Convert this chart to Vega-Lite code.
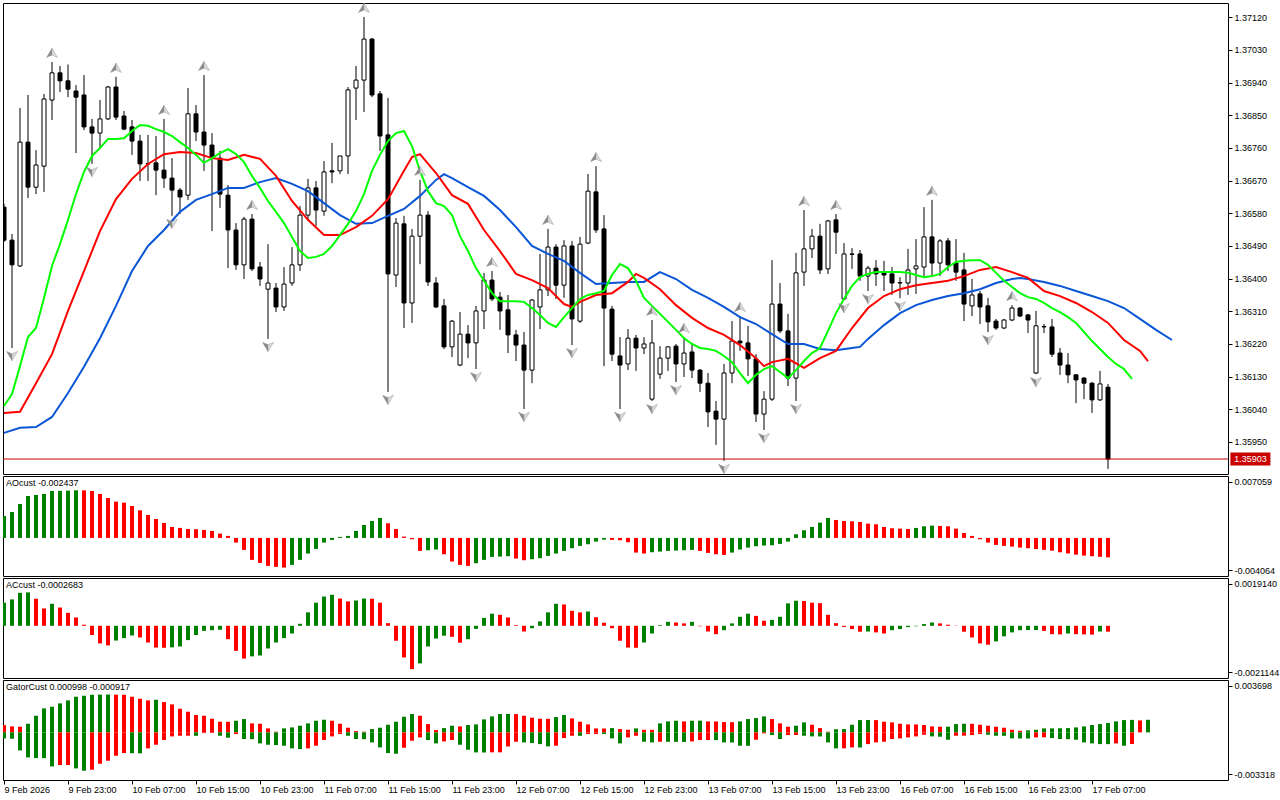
{
"$schema": "https://vega.github.io/schema/vega-lite/v6.json",
"background": "white",
"padding": {"left": 2, "top": 2, "right": 0, "bottom": 0},
"spacing": 2,
"bounds": "flush",
"config": {"view": {"stroke": "black", "strokeWidth": 1}, "font": "Liberation Sans",
  "axis": {"labelFont": "Liberation Sans", "labelFontSize": 9, "labelColor": "black", "tickColor": "black", "domain": false, "grid": false},
  "title": {"font": "Liberation Sans", "fontSize": 9, "fontWeight": "normal", "color": "black"}},
"datasets": {
"candles": [
{"i":0,"o":1.36597,"h":1.36606,"l":1.36501,"c":1.36506},
{"i":1,"o":1.36506,"h":1.36523,"l":1.36209,"c":1.36438,"f":"d"},
{"i":2,"o":1.36435,"h":1.36870,"l":1.36432,"c":1.36776},
{"i":3,"o":1.36776,"h":1.36906,"l":1.36622,"c":1.36652},
{"i":4,"o":1.36652,"h":1.36754,"l":1.36633,"c":1.36713},
{"i":5,"o":1.36710,"h":1.36909,"l":1.36639,"c":1.36895},
{"i":6,"o":1.36892,"h":1.36997,"l":1.36837,"c":1.36967,"f":"u"},
{"i":7,"o":1.36967,"h":1.36986,"l":1.36914,"c":1.36945},
{"i":8,"o":1.36945,"h":1.36990,"l":1.36900,"c":1.36922},
{"i":9,"o":1.36917,"h":1.36933,"l":1.36746,"c":1.36900},
{"i":10,"o":1.36906,"h":1.36961,"l":1.36809,"c":1.36818},
{"i":11,"o":1.36818,"h":1.36840,"l":1.36716,"c":1.36801,"f":"d"},
{"i":12,"o":1.36801,"h":1.36892,"l":1.36760,"c":1.36840},
{"i":13,"o":1.36840,"h":1.36931,"l":1.36837,"c":1.36928},
{"i":14,"o":1.36928,"h":1.36956,"l":1.36837,"c":1.36845,"f":"u"},
{"i":15,"o":1.36848,"h":1.36862,"l":1.36809,"c":1.36812},
{"i":16,"o":1.36818,"h":1.36837,"l":1.36741,"c":1.36779},
{"i":17,"o":1.36779,"h":1.36796,"l":1.36669,"c":1.36716},
{"i":18,"o":1.36716,"h":1.36796,"l":1.36669,"c":1.36717},
{"i":19,"o":1.36719,"h":1.36793,"l":1.36630,"c":1.36699},
{"i":20,"o":1.36699,"h":1.36840,"l":1.36650,"c":1.36677,"f":"u"},
{"i":21,"o":1.36677,"h":1.36732,"l":1.36573,"c":1.36644,"f":"d"},
{"i":22,"o":1.36644,"h":1.36650,"l":1.36578,"c":1.36625},
{"i":23,"o":1.36630,"h":1.36925,"l":1.36617,"c":1.36854},
{"i":24,"o":1.36854,"h":1.36878,"l":1.36779,"c":1.36804},
{"i":25,"o":1.36804,"h":1.36961,"l":1.36697,"c":1.36768,"f":"u"},
{"i":26,"o":1.36768,"h":1.36801,"l":1.36531,"c":1.36732},
{"i":27,"o":1.36732,"h":1.36752,"l":1.36595,"c":1.36633},
{"i":28,"o":1.36630,"h":1.36658,"l":1.36429,"c":1.36534},
{"i":29,"o":1.36534,"h":1.36553,"l":1.36424,"c":1.36438},
{"i":30,"o":1.36438,"h":1.36570,"l":1.36399,"c":1.36564},
{"i":31,"o":1.36564,"h":1.36578,"l":1.36421,"c":1.36427,"f":"u"},
{"i":32,"o":1.36432,"h":1.36446,"l":1.36380,"c":1.36399},
{"i":33,"o":1.36371,"h":1.36495,"l":1.36234,"c":1.36388,"f":"d"},
{"i":34,"o":1.36374,"h":1.36388,"l":1.36308,"c":1.36322},
{"i":35,"o":1.36322,"h":1.36432,"l":1.36311,"c":1.36385},
{"i":36,"o":1.36388,"h":1.36487,"l":1.36380,"c":1.36438},
{"i":37,"o":1.36438,"h":1.36600,"l":1.36421,"c":1.36575},
{"i":38,"o":1.36575,"h":1.36675,"l":1.36559,"c":1.36650},
{"i":39,"o":1.36650,"h":1.36669,"l":1.36545,"c":1.36589},
{"i":40,"o":1.36586,"h":1.36724,"l":1.36573,"c":1.36694},
{"i":41,"o":1.36697,"h":1.36774,"l":1.36663,"c":1.36694},
{"i":42,"o":1.36697,"h":1.36738,"l":1.36688,"c":1.36738},
{"i":43,"o":1.36738,"h":1.36928,"l":1.36688,"c":1.36920},
{"i":44,"o":1.36925,"h":1.36986,"l":1.36837,"c":1.36947},
{"i":45,"o":1.36947,"h":1.37121,"l":1.36859,"c":1.37060,"f":"u"},
{"i":46,"o":1.37060,"h":1.37063,"l":1.36900,"c":1.36906},
{"i":47,"o":1.36909,"h":1.36917,"l":1.36752,"c":1.36793},
{"i":48,"o":1.36796,"h":1.36898,"l":1.36088,"c":1.36413,"f":"d"},
{"i":49,"o":1.36410,"h":1.36567,"l":1.36377,"c":1.36553},
{"i":50,"o":1.36551,"h":1.36573,"l":1.36264,"c":1.36333},
{"i":51,"o":1.36333,"h":1.36537,"l":1.36278,"c":1.36517},
{"i":52,"o":1.36517,"h":1.36672,"l":1.36440,"c":1.36575,"f":"u"},
{"i":53,"o":1.36575,"h":1.36586,"l":1.36380,"c":1.36391},
{"i":54,"o":1.36388,"h":1.36404,"l":1.36319,"c":1.36322},
{"i":55,"o":1.36325,"h":1.36344,"l":1.36206,"c":1.36212},
{"i":56,"o":1.36212,"h":1.36286,"l":1.36184,"c":1.36283},
{"i":57,"o":1.36162,"h":1.36308,"l":1.36159,"c":1.36247},
{"i":58,"o":1.36247,"h":1.36272,"l":1.36181,"c":1.36223},
{"i":59,"o":1.36223,"h":1.36325,"l":1.36151,"c":1.36311,"f":"d"},
{"i":60,"o":1.36311,"h":1.36416,"l":1.36261,"c":1.36396},
{"i":61,"o":1.36396,"h":1.36421,"l":1.36338,"c":1.36344,"f":"u"},
{"i":62,"o":1.36349,"h":1.36363,"l":1.36259,"c":1.36311},
{"i":63,"o":1.36314,"h":1.36355,"l":1.36195,"c":1.36245},
{"i":64,"o":1.36245,"h":1.36259,"l":1.36173,"c":1.36217},
{"i":65,"o":1.36217,"h":1.36253,"l":1.36041,"c":1.36148,"f":"d"},
{"i":66,"o":1.36148,"h":1.36344,"l":1.36112,"c":1.36341},
{"i":67,"o":1.36322,"h":1.36468,"l":1.36261,"c":1.36369},
{"i":68,"o":1.36369,"h":1.36537,"l":1.36352,"c":1.36487,"f":"u"},
{"i":69,"o":1.36487,"h":1.36495,"l":1.36344,"c":1.36382},
{"i":70,"o":1.36382,"h":1.36506,"l":1.36347,"c":1.36490},
{"i":71,"o":1.36490,"h":1.36504,"l":1.36217,"c":1.36289,"f":"d"},
{"i":72,"o":1.36283,"h":1.36515,"l":1.36278,"c":1.36495},
{"i":73,"o":1.36498,"h":1.36688,"l":1.36495,"c":1.36641},
{"i":74,"o":1.36639,"h":1.36710,"l":1.36526,"c":1.36534,"f":"u"},
{"i":75,"o":1.36537,"h":1.36575,"l":1.36159,"c":1.36319},
{"i":76,"o":1.36316,"h":1.36325,"l":1.36173,"c":1.36192},
{"i":77,"o":1.36187,"h":1.36239,"l":1.36041,"c":1.36162,"f":"d"},
{"i":78,"o":1.36165,"h":1.36261,"l":1.36148,"c":1.36236},
{"i":79,"o":1.36236,"h":1.36245,"l":1.36146,"c":1.36209},
{"i":80,"o":1.36209,"h":1.36239,"l":1.36192,"c":1.36220},
{"i":81,"o":1.36068,"h":1.36286,"l":1.36063,"c":1.36223,"f":"b"},
{"i":82,"o":1.36137,"h":1.36214,"l":1.36124,"c":1.36181},
{"i":83,"o":1.36181,"h":1.36214,"l":1.36146,"c":1.36212},
{"i":84,"o":1.36214,"h":1.36220,"l":1.36115,"c":1.36165,"f":"d"},
{"i":85,"o":1.36165,"h":1.36239,"l":1.36129,"c":1.36195,"f":"u"},
{"i":86,"o":1.36198,"h":1.36223,"l":1.36126,"c":1.36148},
{"i":87,"o":1.36148,"h":1.36151,"l":1.36088,"c":1.36112},
{"i":88,"o":1.36112,"h":1.36140,"l":1.35991,"c":1.36033},
{"i":89,"o":1.36035,"h":1.36063,"l":1.35942,"c":1.36013},
{"i":90,"o":1.36013,"h":1.36165,"l":1.35898,"c":1.36140,"f":"d"},
{"i":91,"o":1.36140,"h":1.36283,"l":1.36112,"c":1.36228},
{"i":92,"o":1.36228,"h":1.36297,"l":1.36201,"c":1.36223,"f":"u"},
{"i":93,"o":1.36223,"h":1.36270,"l":1.36132,"c":1.36179},
{"i":94,"o":1.36179,"h":1.36192,"l":1.36005,"c":1.36027},
{"i":95,"o":1.36027,"h":1.36090,"l":1.35983,"c":1.36068,"f":"d"},
{"i":96,"o":1.36068,"h":1.36451,"l":1.36063,"c":1.36330},
{"i":97,"o":1.36330,"h":1.36388,"l":1.36250,"c":1.36256},
{"i":98,"o":1.36256,"h":1.36303,"l":1.36104,"c":1.36126},
{"i":99,"o":1.36126,"h":1.36471,"l":1.36063,"c":1.36416,"f":"d"},
{"i":100,"o":1.36418,"h":1.36589,"l":1.36380,"c":1.36482,"f":"u"},
{"i":101,"o":1.36482,"h":1.36537,"l":1.36457,"c":1.36517},
{"i":102,"o":1.36517,"h":1.36551,"l":1.36413,"c":1.36424},
{"i":103,"o":1.36427,"h":1.36562,"l":1.36413,"c":1.36559},
{"i":104,"o":1.36562,"h":1.36578,"l":1.36468,"c":1.36528,"f":"u"},
{"i":105,"o":1.36344,"h":1.36498,"l":1.36341,"c":1.36468,"f":"d"},
{"i":106,"o":1.36468,"h":1.36484,"l":1.36427,"c":1.36467},
{"i":107,"o":1.36468,"h":1.36479,"l":1.36394,"c":1.36407},
{"i":108,"o":1.36407,"h":1.36435,"l":1.36366,"c":1.36429,"f":"d"},
{"i":109,"o":1.36429,"h":1.36451,"l":1.36380,"c":1.36413},
{"i":110,"o":1.36418,"h":1.36449,"l":1.36366,"c":1.36410},
{"i":111,"o":1.36413,"h":1.36432,"l":1.36355,"c":1.36388},
{"i":112,"o":1.36388,"h":1.36404,"l":1.36346,"c":1.36389,"f":"d"},
{"i":113,"o":1.36388,"h":1.36482,"l":1.36355,"c":1.36424},
{"i":114,"o":1.36427,"h":1.36509,"l":1.36358,"c":1.36435},
{"i":115,"o":1.36432,"h":1.36597,"l":1.36407,"c":1.36515},
{"i":116,"o":1.36515,"h":1.36617,"l":1.36407,"c":1.36443,"f":"u"},
{"i":117,"o":1.36443,"h":1.36509,"l":1.36407,"c":1.36504},
{"i":118,"o":1.36504,"h":1.36512,"l":1.36421,"c":1.36438},
{"i":119,"o":1.36443,"h":1.36509,"l":1.36394,"c":1.36418},
{"i":120,"o":1.36424,"h":1.36471,"l":1.36283,"c":1.36330},
{"i":121,"o":1.36325,"h":1.36399,"l":1.36297,"c":1.36355},
{"i":122,"o":1.36358,"h":1.36366,"l":1.36275,"c":1.36322},
{"i":123,"o":1.36325,"h":1.36347,"l":1.36253,"c":1.36281,"f":"d"},
{"i":124,"o":1.36283,"h":1.36289,"l":1.36259,"c":1.36264},
{"i":125,"o":1.36264,"h":1.36289,"l":1.36261,"c":1.36286},
{"i":126,"o":1.36286,"h":1.36327,"l":1.36283,"c":1.36319,"f":"u"},
{"i":127,"o":1.36319,"h":1.36322,"l":1.36294,"c":1.36297},
{"i":128,"o":1.36300,"h":1.36303,"l":1.36250,"c":1.36286},
{"i":129,"o":1.36140,"h":1.36311,"l":1.36137,"c":1.36270,"f":"d"},
{"i":130,"o":1.36268,"h":1.36275,"l":1.36250,"c":1.36267},
{"i":131,"o":1.36267,"h":1.36289,"l":1.36184,"c":1.36192},
{"i":132,"o":1.36195,"h":1.36209,"l":1.36135,"c":1.36162},
{"i":133,"o":1.36162,"h":1.36195,"l":1.36112,"c":1.36135},
{"i":134,"o":1.36135,"h":1.36137,"l":1.36057,"c":1.36121},
{"i":135,"o":1.36126,"h":1.36129,"l":1.36068,"c":1.36112},
{"i":136,"o":1.36112,"h":1.36115,"l":1.36030,"c":1.36066},
{"i":137,"o":1.36066,"h":1.36146,"l":1.36063,"c":1.36110},
{"i":138,"o":1.36101,"h":1.36110,"l":1.35876,"c":1.35903}
],
"lines": [
{"ln":"jaw","i":0,"p":1.35975},{"ln":"jaw","i":2,"p":1.35989},{"ln":"jaw","i":4,"p":1.35991},{"ln":"jaw","i":6,"p":1.36019},{"ln":"jaw","i":8,"p":1.36085},{"ln":"jaw","i":10,"p":1.36157},{"ln":"jaw","i":12,"p":1.36236},{"ln":"jaw","i":14,"p":1.36325},{"ln":"jaw","i":16,"p":1.36421},{"ln":"jaw","i":18,"p":1.36490},{"ln":"jaw","i":20,"p":1.36534},{"ln":"jaw","i":22,"p":1.36584},{"ln":"jaw","i":24,"p":1.36617},{"ln":"jaw","i":26,"p":1.36633},{"ln":"jaw","i":28,"p":1.36650},{"ln":"jaw","i":30,"p":1.36650},{"ln":"jaw","i":32,"p":1.36666},{"ln":"jaw","i":34,"p":1.36677},{"ln":"jaw","i":36,"p":1.36661},{"ln":"jaw","i":38,"p":1.36641},{"ln":"jaw","i":40,"p":1.36608},{"ln":"jaw","i":42,"p":1.36575},{"ln":"jaw","i":44,"p":1.36551},{"ln":"jaw","i":46,"p":1.36553},{"ln":"jaw","i":48,"p":1.36573},{"ln":"jaw","i":50,"p":1.36592},{"ln":"jaw","i":52,"p":1.36628},{"ln":"jaw","i":54,"p":1.36672},{"ln":"jaw","i":55,"p":1.36688},{"ln":"jaw","i":56,"p":1.36677},{"ln":"jaw","i":58,"p":1.36652},{"ln":"jaw","i":60,"p":1.36628},{"ln":"jaw","i":62,"p":1.36589},{"ln":"jaw","i":64,"p":1.36542},{"ln":"jaw","i":66,"p":1.36490},{"ln":"jaw","i":68,"p":1.36468},{"ln":"jaw","i":70,"p":1.36449},{"ln":"jaw","i":72,"p":1.36416},{"ln":"jaw","i":74,"p":1.36385},{"ln":"jaw","i":76,"p":1.36388},{"ln":"jaw","i":78,"p":1.36391},{"ln":"jaw","i":80,"p":1.36391},{"ln":"jaw","i":82,"p":1.36418},{"ln":"jaw","i":84,"p":1.36399},{"ln":"jaw","i":86,"p":1.36369},{"ln":"jaw","i":88,"p":1.36347},{"ln":"jaw","i":90,"p":1.36322},{"ln":"jaw","i":92,"p":1.36294},{"ln":"jaw","i":94,"p":1.36275},{"ln":"jaw","i":96,"p":1.36247},{"ln":"jaw","i":98,"p":1.36220},{"ln":"jaw","i":100,"p":1.36220},{"ln":"jaw","i":102,"p":1.36206},{"ln":"jaw","i":104,"p":1.36203},{"ln":"jaw","i":106,"p":1.36209},{"ln":"jaw","i":107,"p":1.36212},{"ln":"jaw","i":108,"p":1.36234},{"ln":"jaw","i":110,"p":1.36272},{"ln":"jaw","i":112,"p":1.36305},{"ln":"jaw","i":114,"p":1.36327},{"ln":"jaw","i":116,"p":1.36341},{"ln":"jaw","i":118,"p":1.36352},{"ln":"jaw","i":120,"p":1.36360},{"ln":"jaw","i":122,"p":1.36371},{"ln":"jaw","i":124,"p":1.36388},{"ln":"jaw","i":126,"p":1.36399},{"ln":"jaw","i":127,"p":1.36402},{"ln":"jaw","i":128,"p":1.36399},{"ln":"jaw","i":130,"p":1.36391},{"ln":"jaw","i":132,"p":1.36380},{"ln":"jaw","i":134,"p":1.36366},{"ln":"jaw","i":136,"p":1.36352},{"ln":"jaw","i":138,"p":1.36338},{"ln":"jaw","i":140,"p":1.36319},{"ln":"jaw","i":142,"p":1.36289},{"ln":"jaw","i":144,"p":1.36259},{"ln":"jaw","i":146,"p":1.36231},
{"ln":"teeth","i":0,"p":1.36030},{"ln":"teeth","i":2,"p":1.36033},{"ln":"teeth","i":4,"p":1.36112},{"ln":"teeth","i":6,"p":1.36192},{"ln":"teeth","i":8,"p":1.36311},{"ln":"teeth","i":10,"p":1.36421},{"ln":"teeth","i":12,"p":1.36531},{"ln":"teeth","i":14,"p":1.36619},{"ln":"teeth","i":16,"p":1.36675},{"ln":"teeth","i":18,"p":1.36716},{"ln":"teeth","i":20,"p":1.36743},{"ln":"teeth","i":22,"p":1.36749},{"ln":"teeth","i":24,"p":1.36746},{"ln":"teeth","i":26,"p":1.36732},{"ln":"teeth","i":28,"p":1.36727},{"ln":"teeth","i":30,"p":1.36741},{"ln":"teeth","i":32,"p":1.36730},{"ln":"teeth","i":34,"p":1.36683},{"ln":"teeth","i":36,"p":1.36614},{"ln":"teeth","i":38,"p":1.36562},{"ln":"teeth","i":40,"p":1.36520},{"ln":"teeth","i":42,"p":1.36520},{"ln":"teeth","i":44,"p":1.36542},{"ln":"teeth","i":46,"p":1.36573},{"ln":"teeth","i":48,"p":1.36619},{"ln":"teeth","i":50,"p":1.36697},{"ln":"teeth","i":51,"p":1.36735},{"ln":"teeth","i":52,"p":1.36743},{"ln":"teeth","i":54,"p":1.36691},{"ln":"teeth","i":56,"p":1.36630},{"ln":"teeth","i":58,"p":1.36606},{"ln":"teeth","i":60,"p":1.36534},{"ln":"teeth","i":62,"p":1.36476},{"ln":"teeth","i":64,"p":1.36413},{"ln":"teeth","i":66,"p":1.36396},{"ln":"teeth","i":68,"p":1.36374},{"ln":"teeth","i":70,"p":1.36330},{"ln":"teeth","i":71,"p":1.36322},{"ln":"teeth","i":72,"p":1.36336},{"ln":"teeth","i":74,"p":1.36355},{"ln":"teeth","i":76,"p":1.36360},{"ln":"teeth","i":78,"p":1.36391},{"ln":"teeth","i":79,"p":1.36413},{"ln":"teeth","i":80,"p":1.36402},{"ln":"teeth","i":82,"p":1.36371},{"ln":"teeth","i":84,"p":1.36327},{"ln":"teeth","i":86,"p":1.36292},{"ln":"teeth","i":88,"p":1.36264},{"ln":"teeth","i":90,"p":1.36245},{"ln":"teeth","i":92,"p":1.36217},{"ln":"teeth","i":94,"p":1.36181},{"ln":"teeth","i":95,"p":1.36159},{"ln":"teeth","i":96,"p":1.36170},{"ln":"teeth","i":98,"p":1.36179},{"ln":"teeth","i":100,"p":1.36154},{"ln":"teeth","i":102,"p":1.36181},{"ln":"teeth","i":104,"p":1.36201},{"ln":"teeth","i":106,"p":1.36264},{"ln":"teeth","i":108,"p":1.36319},{"ln":"teeth","i":110,"p":1.36352},{"ln":"teeth","i":112,"p":1.36371},{"ln":"teeth","i":114,"p":1.36382},{"ln":"teeth","i":116,"p":1.36388},{"ln":"teeth","i":118,"p":1.36394},{"ln":"teeth","i":120,"p":1.36407},{"ln":"teeth","i":122,"p":1.36424},{"ln":"teeth","i":124,"p":1.36432},{"ln":"teeth","i":126,"p":1.36418},{"ln":"teeth","i":128,"p":1.36402},{"ln":"teeth","i":130,"p":1.36366},{"ln":"teeth","i":132,"p":1.36352},{"ln":"teeth","i":134,"p":1.36333},{"ln":"teeth","i":136,"p":1.36308},{"ln":"teeth","i":138,"p":1.36278},{"ln":"teeth","i":140,"p":1.36231},{"ln":"teeth","i":142,"p":1.36201},{"ln":"teeth","i":143,"p":1.36173},
{"ln":"lips","i":0,"p":1.36049},{"ln":"lips","i":1,"p":1.36082},{"ln":"lips","i":2,"p":1.36159},{"ln":"lips","i":3,"p":1.36239},{"ln":"lips","i":4,"p":1.36264},{"ln":"lips","i":5,"p":1.36347},{"ln":"lips","i":6,"p":1.36435},{"ln":"lips","i":7,"p":1.36495},{"ln":"lips","i":8,"p":1.36562},{"ln":"lips","i":9,"p":1.36633},{"ln":"lips","i":10,"p":1.36694},{"ln":"lips","i":11,"p":1.36738},{"ln":"lips","i":12,"p":1.36760},{"ln":"lips","i":13,"p":1.36785},{"ln":"lips","i":14,"p":1.36785},{"ln":"lips","i":15,"p":1.36787},{"ln":"lips","i":16,"p":1.36807},{"ln":"lips","i":17,"p":1.36823},{"ln":"lips","i":18,"p":1.36821},{"ln":"lips","i":19,"p":1.36812},{"ln":"lips","i":20,"p":1.36804},{"ln":"lips","i":21,"p":1.36793},{"ln":"lips","i":22,"p":1.36776},{"ln":"lips","i":23,"p":1.36760},{"ln":"lips","i":24,"p":1.36741},{"ln":"lips","i":25,"p":1.36719},{"ln":"lips","i":26,"p":1.36732},{"ln":"lips","i":27,"p":1.36746},{"ln":"lips","i":28,"p":1.36757},{"ln":"lips","i":29,"p":1.36743},{"ln":"lips","i":30,"p":1.36721},{"ln":"lips","i":31,"p":1.36683},{"ln":"lips","i":32,"p":1.36650},{"ln":"lips","i":33,"p":1.36614},{"ln":"lips","i":34,"p":1.36584},{"ln":"lips","i":35,"p":1.36553},{"ln":"lips","i":36,"p":1.36515},{"ln":"lips","i":37,"p":1.36476},{"ln":"lips","i":38,"p":1.36457},{"ln":"lips","i":39,"p":1.36460},{"ln":"lips","i":40,"p":1.36468},{"ln":"lips","i":41,"p":1.36490},{"ln":"lips","i":42,"p":1.36520},{"ln":"lips","i":43,"p":1.36551},{"ln":"lips","i":44,"p":1.36586},{"ln":"lips","i":45,"p":1.36633},{"ln":"lips","i":46,"p":1.36697},{"ln":"lips","i":47,"p":1.36741},{"ln":"lips","i":48,"p":1.36779},{"ln":"lips","i":49,"p":1.36801},{"ln":"lips","i":50,"p":1.36807},{"ln":"lips","i":51,"p":1.36765},{"ln":"lips","i":52,"p":1.36697},{"ln":"lips","i":53,"p":1.36641},{"ln":"lips","i":54,"p":1.36608},{"ln":"lips","i":55,"p":1.36600},{"ln":"lips","i":56,"p":1.36575},{"ln":"lips","i":57,"p":1.36517},{"ln":"lips","i":58,"p":1.36476},{"ln":"lips","i":59,"p":1.36429},{"ln":"lips","i":60,"p":1.36394},{"ln":"lips","i":61,"p":1.36360},{"ln":"lips","i":62,"p":1.36338},{"ln":"lips","i":63,"p":1.36338},{"ln":"lips","i":64,"p":1.36338},{"ln":"lips","i":65,"p":1.36336},{"ln":"lips","i":66,"p":1.36319},{"ln":"lips","i":67,"p":1.36300},{"ln":"lips","i":68,"p":1.36278},{"ln":"lips","i":69,"p":1.36267},{"ln":"lips","i":70,"p":1.36294},{"ln":"lips","i":71,"p":1.36319},{"ln":"lips","i":72,"p":1.36344},{"ln":"lips","i":73,"p":1.36355},{"ln":"lips","i":74,"p":1.36360},{"ln":"lips","i":75,"p":1.36366},{"ln":"lips","i":76,"p":1.36410},{"ln":"lips","i":77,"p":1.36440},{"ln":"lips","i":78,"p":1.36429},{"ln":"lips","i":79,"p":1.36394},{"ln":"lips","i":80,"p":1.36347},{"ln":"lips","i":81,"p":1.36325},{"ln":"lips","i":82,"p":1.36303},{"ln":"lips","i":83,"p":1.36281},{"ln":"lips","i":84,"p":1.36259},{"ln":"lips","i":85,"p":1.36236},{"ln":"lips","i":86,"p":1.36220},{"ln":"lips","i":87,"p":1.36209},{"ln":"lips","i":88,"p":1.36206},{"ln":"lips","i":89,"p":1.36201},{"ln":"lips","i":90,"p":1.36187},{"ln":"lips","i":91,"p":1.36170},{"ln":"lips","i":92,"p":1.36140},{"ln":"lips","i":93,"p":1.36112},{"ln":"lips","i":94,"p":1.36135},{"ln":"lips","i":95,"p":1.36151},{"ln":"lips","i":96,"p":1.36159},{"ln":"lips","i":97,"p":1.36143},{"ln":"lips","i":98,"p":1.36126},{"ln":"lips","i":99,"p":1.36148},{"ln":"lips","i":100,"p":1.36173},{"ln":"lips","i":101,"p":1.36195},{"ln":"lips","i":102,"p":1.36209},{"ln":"lips","i":103,"p":1.36256},{"ln":"lips","i":104,"p":1.36305},{"ln":"lips","i":105,"p":1.36344},{"ln":"lips","i":106,"p":1.36380},{"ln":"lips","i":107,"p":1.36404},{"ln":"lips","i":108,"p":1.36413},{"ln":"lips","i":109,"p":1.36418},{"ln":"lips","i":110,"p":1.36418},{"ln":"lips","i":111,"p":1.36418},{"ln":"lips","i":112,"p":1.36418},{"ln":"lips","i":113,"p":1.36416},{"ln":"lips","i":114,"p":1.36410},{"ln":"lips","i":115,"p":1.36404},{"ln":"lips","i":116,"p":1.36407},{"ln":"lips","i":117,"p":1.36413},{"ln":"lips","i":118,"p":1.36432},{"ln":"lips","i":119,"p":1.36446},{"ln":"lips","i":120,"p":1.36449},{"ln":"lips","i":121,"p":1.36451},{"ln":"lips","i":122,"p":1.36451},{"ln":"lips","i":123,"p":1.36438},{"ln":"lips","i":124,"p":1.36416},{"ln":"lips","i":125,"p":1.36394},{"ln":"lips","i":126,"p":1.36377},{"ln":"lips","i":127,"p":1.36360},{"ln":"lips","i":128,"p":1.36349},{"ln":"lips","i":129,"p":1.36344},{"ln":"lips","i":130,"p":1.36333},{"ln":"lips","i":131,"p":1.36319},{"ln":"lips","i":132,"p":1.36308},{"ln":"lips","i":133,"p":1.36294},{"ln":"lips","i":134,"p":1.36278},{"ln":"lips","i":135,"p":1.36253},{"ln":"lips","i":136,"p":1.36228},{"ln":"lips","i":137,"p":1.36206},{"ln":"lips","i":138,"p":1.36184},{"ln":"lips","i":139,"p":1.36165},{"ln":"lips","i":140,"p":1.36151},{"ln":"lips","i":141,"p":1.36124}
],
"ao": [
{"i":0,"v":0.002759,"d":"g"},{"i":1,"v":0.003260,"d":"g"},{"i":2,"v":0.004264,"d":"g"},{"i":3,"v":0.005267,"d":"g"},{"i":4,"v":0.005392,"d":"g"},{"i":5,"v":0.005518,"d":"g"},{"i":6,"v":0.005894,"d":"g"},{"i":7,"v":0.005910,"d":"g"},{"i":8,"v":0.005936,"d":"g"},{"i":9,"v":0.005980,"d":"g"},{"i":10,"v":0.005970,"d":"r"},{"i":11,"v":0.005894,"d":"r"},{"i":12,"v":0.005518,"d":"r"},{"i":13,"v":0.005016,"d":"r"},{"i":14,"v":0.004556,"d":"r"},{"i":15,"v":0.004431,"d":"r"},{"i":16,"v":0.004013,"d":"r"},{"i":17,"v":0.003469,"d":"r"},{"i":18,"v":0.002884,"d":"r"},{"i":19,"v":0.002383,"d":"r"},{"i":20,"v":0.001881,"d":"r"},{"i":21,"v":0.001379,"d":"r"},{"i":22,"v":0.001254,"d":"r"},{"i":23,"v":0.001129,"d":"r"},{"i":24,"v":0.001100,"d":"r"},{"i":25,"v":0.001003,"d":"r"},{"i":26,"v":0.000878,"d":"r"},{"i":27,"v":0.000543,"d":"r"},{"i":28,"v":0.000251,"d":"r"},{"i":29,"v":-0.000585,"d":"r"},{"i":30,"v":-0.001505,"d":"r"},{"i":31,"v":-0.002759,"d":"r"},{"i":32,"v":-0.003135,"d":"r"},{"i":33,"v":-0.003511,"d":"r"},{"i":34,"v":-0.003637,"d":"r"},{"i":35,"v":-0.003720,"d":"r"},{"i":36,"v":-0.003386,"d":"g"},{"i":37,"v":-0.002759,"d":"g"},{"i":38,"v":-0.001965,"d":"g"},{"i":39,"v":-0.001379,"d":"g"},{"i":40,"v":-0.000585,"d":"g"},{"i":41,"v":-0.000251,"d":"g"},{"i":42,"v":0.000125,"d":"g"},{"i":43,"v":0.000251,"d":"g"},{"i":44,"v":0.000878,"d":"g"},{"i":45,"v":0.001630,"d":"g"},{"i":46,"v":0.002132,"d":"g"},{"i":47,"v":0.002508,"d":"g"},{"i":48,"v":0.001839,"d":"r"},{"i":49,"v":0.001129,"d":"r"},{"i":50,"v":0.000167,"d":"r"},{"i":51,"v":-0.000167,"d":"r"},{"i":52,"v":-0.001630,"d":"r"},{"i":53,"v":-0.001547,"d":"g"},{"i":54,"v":-0.001463,"d":"g"},{"i":55,"v":-0.002048,"d":"r"},{"i":56,"v":-0.002968,"d":"r"},{"i":57,"v":-0.003386,"d":"r"},{"i":58,"v":-0.003511,"d":"r"},{"i":59,"v":-0.003177,"d":"g"},{"i":60,"v":-0.002759,"d":"g"},{"i":61,"v":-0.002383,"d":"g"},{"i":62,"v":-0.002341,"d":"g"},{"i":63,"v":-0.002299,"d":"g"},{"i":64,"v":-0.002592,"d":"r"},{"i":65,"v":-0.002801,"d":"r"},{"i":66,"v":-0.002675,"d":"g"},{"i":67,"v":-0.002550,"d":"g"},{"i":68,"v":-0.002257,"d":"g"},{"i":69,"v":-0.001965,"d":"g"},{"i":70,"v":-0.001630,"d":"g"},{"i":71,"v":-0.001296,"d":"g"},{"i":72,"v":-0.001003,"d":"g"},{"i":73,"v":-0.000794,"d":"g"},{"i":74,"v":-0.000460,"d":"g"},{"i":75,"v":-0.000209,"d":"g"},{"i":76,"v":-0.000251,"d":"r"},{"i":77,"v":-0.000293,"d":"r"},{"i":78,"v":-0.000543,"d":"r"},{"i":79,"v":-0.001839,"d":"r"},{"i":80,"v":-0.001965,"d":"r"},{"i":81,"v":-0.001797,"d":"g"},{"i":82,"v":-0.001714,"d":"g"},{"i":83,"v":-0.001630,"d":"g"},{"i":84,"v":-0.001588,"d":"g"},{"i":85,"v":-0.001547,"d":"g"},{"i":86,"v":-0.001505,"d":"g"},{"i":87,"v":-0.001630,"d":"r"},{"i":88,"v":-0.001881,"d":"r"},{"i":89,"v":-0.002048,"d":"r"},{"i":90,"v":-0.002132,"d":"r"},{"i":91,"v":-0.001839,"d":"g"},{"i":92,"v":-0.001463,"d":"g"},{"i":93,"v":-0.001212,"d":"g"},{"i":94,"v":-0.001045,"d":"g"},{"i":95,"v":-0.000961,"d":"g"},{"i":96,"v":-0.000920,"d":"g"},{"i":97,"v":-0.000752,"d":"g"},{"i":98,"v":-0.000460,"d":"g"},{"i":99,"v":0.000460,"d":"g"},{"i":100,"v":0.000961,"d":"g"},{"i":101,"v":0.001379,"d":"g"},{"i":102,"v":0.001923,"d":"g"},{"i":103,"v":0.002508,"d":"g"},{"i":104,"v":0.002257,"d":"r"},{"i":105,"v":0.002132,"d":"r"},{"i":106,"v":0.002090,"d":"r"},{"i":107,"v":0.002006,"d":"r"},{"i":108,"v":0.001797,"d":"r"},{"i":109,"v":0.001714,"d":"r"},{"i":110,"v":0.001379,"d":"r"},{"i":111,"v":0.001212,"d":"r"},{"i":112,"v":0.001170,"d":"r"},{"i":113,"v":0.001129,"d":"r"},{"i":114,"v":0.001254,"d":"g"},{"i":115,"v":0.001463,"d":"g"},{"i":116,"v":0.001547,"d":"g"},{"i":117,"v":0.001505,"d":"r"},{"i":118,"v":0.001463,"d":"r"},{"i":119,"v":0.001170,"d":"r"},{"i":120,"v":0.000627,"d":"r"},{"i":121,"v":0.000251,"d":"r"},{"i":122,"v":-0.000167,"d":"r"},{"i":123,"v":-0.000585,"d":"r"},{"i":124,"v":-0.000878,"d":"r"},{"i":125,"v":-0.001003,"d":"r"},{"i":126,"v":-0.001087,"d":"r"},{"i":127,"v":-0.001212,"d":"r"},{"i":128,"v":-0.001296,"d":"r"},{"i":129,"v":-0.001400,"d":"r"},{"i":130,"v":-0.001500,"d":"r"},{"i":131,"v":-0.001600,"d":"r"},{"i":132,"v":-0.001800,"d":"r"},{"i":133,"v":-0.001950,"d":"r"},{"i":134,"v":-0.002100,"d":"r"},{"i":135,"v":-0.002220,"d":"r"},{"i":136,"v":-0.002300,"d":"r"},{"i":137,"v":-0.002370,"d":"r"},{"i":138,"v":-0.002437,"d":"r"}
],
"ac": [
{"i":0,"v":0.00105,"d":"g"},{"i":1,"v":0.00120,"d":"g"},{"i":2,"v":0.00150,"d":"g"},{"i":3,"v":0.00152,"d":"g"},{"i":4,"v":0.00123,"d":"r"},{"i":5,"v":0.00079,"d":"r"},{"i":6,"v":0.00100,"d":"g"},{"i":7,"v":0.00083,"d":"r"},{"i":8,"v":0.00059,"d":"r"},{"i":9,"v":0.00038,"d":"r"},{"i":10,"v":0.00005,"d":"r"},{"i":11,"v":-0.00042,"d":"r"},{"i":12,"v":-0.00080,"d":"r"},{"i":13,"v":-0.00089,"d":"r"},{"i":14,"v":-0.00067,"d":"g"},{"i":15,"v":-0.00056,"d":"g"},{"i":16,"v":-0.00044,"d":"g"},{"i":17,"v":-0.00053,"d":"r"},{"i":18,"v":-0.00076,"d":"r"},{"i":19,"v":-0.00099,"d":"r"},{"i":20,"v":-0.00100,"d":"r"},{"i":21,"v":-0.00098,"d":"g"},{"i":22,"v":-0.00094,"d":"g"},{"i":23,"v":-0.00065,"d":"g"},{"i":24,"v":-0.00042,"d":"g"},{"i":25,"v":-0.00023,"d":"g"},{"i":26,"v":-0.00020,"d":"g"},{"i":27,"v":-0.00018,"d":"g"},{"i":28,"v":-0.00061,"d":"r"},{"i":29,"v":-0.00114,"d":"r"},{"i":30,"v":-0.00149,"d":"r"},{"i":31,"v":-0.00139,"d":"g"},{"i":32,"v":-0.00135,"d":"g"},{"i":33,"v":-0.00103,"d":"g"},{"i":34,"v":-0.00076,"d":"g"},{"i":35,"v":-0.00056,"d":"g"},{"i":36,"v":-0.00035,"d":"g"},{"i":37,"v":0.00009,"d":"g"},{"i":38,"v":0.00061,"d":"g"},{"i":39,"v":0.00105,"d":"g"},{"i":40,"v":0.00133,"d":"g"},{"i":41,"v":0.00141,"d":"g"},{"i":42,"v":0.00124,"d":"r"},{"i":43,"v":0.00111,"d":"r"},{"i":44,"v":0.00115,"d":"g"},{"i":45,"v":0.00124,"d":"g"},{"i":46,"v":0.00123,"d":"r"},{"i":47,"v":0.00105,"d":"r"},{"i":48,"v":0.00012,"d":"r"},{"i":49,"v":-0.00068,"d":"r"},{"i":50,"v":-0.00144,"d":"r"},{"i":51,"v":-0.00197,"d":"r"},{"i":52,"v":-0.00171,"d":"g"},{"i":53,"v":-0.00094,"d":"g"},{"i":54,"v":-0.00058,"d":"g"},{"i":55,"v":-0.00045,"d":"g"},{"i":56,"v":-0.00050,"d":"r"},{"i":57,"v":-0.00077,"d":"r"},{"i":58,"v":-0.00061,"d":"g"},{"i":59,"v":-0.00014,"d":"g"},{"i":60,"v":0.00036,"d":"g"},{"i":61,"v":0.00055,"d":"g"},{"i":62,"v":0.00050,"d":"r"},{"i":63,"v":0.00038,"d":"r"},{"i":64,"v":0.00003,"d":"r"},{"i":65,"v":-0.00026,"d":"r"},{"i":66,"v":-0.00011,"d":"g"},{"i":67,"v":0.00020,"d":"g"},{"i":68,"v":0.00061,"d":"g"},{"i":69,"v":0.00100,"d":"g"},{"i":70,"v":0.00097,"d":"r"},{"i":71,"v":0.00068,"d":"r"},{"i":72,"v":0.00061,"d":"r"},{"i":73,"v":0.00065,"d":"g"},{"i":74,"v":0.00039,"d":"r"},{"i":75,"v":0.00014,"d":"r"},{"i":76,"v":-0.00011,"d":"r"},{"i":77,"v":-0.00068,"d":"r"},{"i":78,"v":-0.00099,"d":"r"},{"i":79,"v":-0.00100,"d":"r"},{"i":80,"v":-0.00076,"d":"g"},{"i":81,"v":-0.00035,"d":"g"},{"i":82,"v":0.00003,"d":"g"},{"i":83,"v":0.00018,"d":"g"},{"i":84,"v":0.00015,"d":"r"},{"i":85,"v":0.00011,"d":"r"},{"i":86,"v":0.00018,"d":"g"},{"i":87,"v":-0.00002,"d":"r"},{"i":88,"v":-0.00026,"d":"r"},{"i":89,"v":-0.00038,"d":"r"},{"i":90,"v":-0.00020,"d":"g"},{"i":91,"v":0.00011,"d":"g"},{"i":92,"v":0.00041,"d":"g"},{"i":93,"v":0.00055,"d":"g"},{"i":94,"v":0.00045,"d":"r"},{"i":95,"v":0.00023,"d":"r"},{"i":96,"v":0.00027,"d":"g"},{"i":97,"v":0.00041,"d":"g"},{"i":98,"v":0.00102,"d":"g"},{"i":99,"v":0.00114,"d":"g"},{"i":100,"v":0.00113,"d":"r"},{"i":101,"v":0.00105,"d":"r"},{"i":102,"v":0.00103,"d":"r"},{"i":103,"v":0.00050,"d":"r"},{"i":104,"v":0.00012,"d":"r"},{"i":105,"v":-0.00005,"d":"r"},{"i":106,"v":-0.00015,"d":"r"},{"i":107,"v":-0.00027,"d":"r"},{"i":108,"v":-0.00026,"d":"g"},{"i":109,"v":-0.00030,"d":"r"},{"i":110,"v":-0.00035,"d":"r"},{"i":111,"v":-0.00020,"d":"g"},{"i":112,"v":-0.00015,"d":"g"},{"i":113,"v":-0.00006,"d":"g"},{"i":114,"v":-0.00002,"d":"g"},{"i":115,"v":0.00008,"d":"g"},{"i":116,"v":0.00015,"d":"g"},{"i":117,"v":0.00011,"d":"r"},{"i":118,"v":0.00005,"d":"r"},{"i":119,"v":-0.00001,"d":"r"},{"i":120,"v":-0.00027,"d":"r"},{"i":121,"v":-0.00053,"d":"r"},{"i":122,"v":-0.00080,"d":"r"},{"i":123,"v":-0.00086,"d":"r"},{"i":124,"v":-0.00071,"d":"g"},{"i":125,"v":-0.00048,"d":"g"},{"i":126,"v":-0.00030,"d":"g"},{"i":127,"v":-0.00020,"d":"g"},{"i":128,"v":-0.00019,"d":"g"},{"i":129,"v":-0.00019,"d":"g"},{"i":130,"v":-0.00023,"d":"r"},{"i":131,"v":-0.00038,"d":"r"},{"i":132,"v":-0.00039,"d":"r"},{"i":133,"v":-0.00035,"d":"g"},{"i":134,"v":-0.00038,"d":"r"},{"i":135,"v":-0.00039,"d":"r"},{"i":136,"v":-0.00040,"d":"r"},{"i":137,"v":-0.00026,"d":"g"},{"i":138,"v":-0.0002683,"d":"r"}
],
"gator": [
{"i":0,"v":0.000581,"d":"r"},{"i":1,"v":0.000475,"d":"r"},{"i":2,"v":0.000449,"d":"r"},{"i":3,"v":0.000686,"d":"g"},{"i":4,"v":0.001320,"d":"g"},{"i":5,"v":0.001901,"d":"g"},{"i":6,"v":0.002033,"d":"g"},{"i":7,"v":0.002297,"d":"g"},{"i":8,"v":0.002534,"d":"g"},{"i":9,"v":0.002825,"d":"g"},{"i":10,"v":0.002904,"d":"g"},{"i":11,"v":0.002983,"d":"g"},{"i":12,"v":0.002990,"d":"g"},{"i":13,"v":0.002995,"d":"g"},{"i":14,"v":0.002990,"d":"r"},{"i":15,"v":0.002985,"d":"r"},{"i":16,"v":0.002825,"d":"r"},{"i":17,"v":0.002666,"d":"r"},{"i":18,"v":0.002534,"d":"r"},{"i":19,"v":0.002587,"d":"g"},{"i":20,"v":0.002402,"d":"r"},{"i":21,"v":0.002218,"d":"r"},{"i":22,"v":0.001874,"d":"r"},{"i":23,"v":0.001637,"d":"r"},{"i":24,"v":0.001373,"d":"r"},{"i":25,"v":0.001320,"d":"r"},{"i":26,"v":0.001082,"d":"r"},{"i":27,"v":0.000845,"d":"r"},{"i":28,"v":0.000840,"d":"r"},{"i":29,"v":0.000924,"d":"g"},{"i":30,"v":0.001056,"d":"g"},{"i":31,"v":0.000713,"d":"r"},{"i":32,"v":0.000686,"d":"r"},{"i":33,"v":0.000317,"d":"r"},{"i":34,"v":0.000053,"d":"r"},{"i":35,"v":0.000317,"d":"g"},{"i":36,"v":0.000396,"d":"g"},{"i":37,"v":0.000528,"d":"g"},{"i":38,"v":0.000713,"d":"g"},{"i":39,"v":0.000924,"d":"g"},{"i":40,"v":0.001003,"d":"g"},{"i":41,"v":0.000924,"d":"r"},{"i":42,"v":0.000686,"d":"r"},{"i":43,"v":0.000370,"d":"r"},{"i":44,"v":0.000106,"d":"r"},{"i":45,"v":0.000053,"d":"r"},{"i":46,"v":0.000264,"d":"g"},{"i":47,"v":0.000370,"d":"g"},{"i":48,"v":0.000607,"d":"g"},{"i":49,"v":0.000845,"d":"g"},{"i":50,"v":0.001241,"d":"g"},{"i":51,"v":0.001452,"d":"g"},{"i":52,"v":0.001320,"d":"r"},{"i":53,"v":0.000660,"d":"r"},{"i":54,"v":0.000185,"d":"r"},{"i":55,"v":0.000343,"d":"g"},{"i":56,"v":0.000528,"d":"g"},{"i":57,"v":0.000475,"d":"r"},{"i":58,"v":0.000581,"d":"g"},{"i":59,"v":0.000634,"d":"g"},{"i":60,"v":0.001030,"d":"g"},{"i":61,"v":0.001267,"d":"g"},{"i":62,"v":0.001452,"d":"g"},{"i":63,"v":0.001460,"d":"g"},{"i":64,"v":0.001450,"d":"r"},{"i":65,"v":0.001320,"d":"r"},{"i":66,"v":0.001162,"d":"r"},{"i":67,"v":0.001082,"d":"r"},{"i":68,"v":0.001075,"d":"r"},{"i":69,"v":0.001214,"d":"g"},{"i":70,"v":0.001373,"d":"g"},{"i":71,"v":0.001109,"d":"r"},{"i":72,"v":0.000845,"d":"r"},{"i":73,"v":0.000634,"d":"r"},{"i":74,"v":0.000317,"d":"r"},{"i":75,"v":0.000310,"d":"r"},{"i":76,"v":0.000343,"d":"g"},{"i":77,"v":0.000264,"d":"r"},{"i":78,"v":0.000211,"d":"r"},{"i":79,"v":0.000317,"d":"g"},{"i":80,"v":0.000211,"d":"r"},{"i":81,"v":0.000205,"d":"r"},{"i":82,"v":0.000713,"d":"g"},{"i":83,"v":0.000871,"d":"g"},{"i":84,"v":0.000924,"d":"g"},{"i":85,"v":0.000871,"d":"r"},{"i":86,"v":0.000924,"d":"g"},{"i":87,"v":0.000930,"d":"g"},{"i":88,"v":0.000871,"d":"r"},{"i":89,"v":0.000865,"d":"r"},{"i":90,"v":0.000818,"d":"r"},{"i":91,"v":0.000810,"d":"r"},{"i":92,"v":0.000871,"d":"g"},{"i":93,"v":0.001056,"d":"g"},{"i":94,"v":0.001135,"d":"g"},{"i":95,"v":0.001267,"d":"g"},{"i":96,"v":0.001056,"d":"r"},{"i":97,"v":0.000713,"d":"r"},{"i":98,"v":0.000449,"d":"r"},{"i":99,"v":0.000528,"d":"g"},{"i":100,"v":0.000792,"d":"g"},{"i":101,"v":0.000607,"d":"r"},{"i":102,"v":0.000343,"d":"r"},{"i":103,"v":0.000053,"d":"r"},{"i":104,"v":0.000250,"d":"g"},{"i":105,"v":0.000264,"d":"g"},{"i":106,"v":0.000607,"d":"g"},{"i":107,"v":0.000977,"d":"g"},{"i":108,"v":0.000980,"d":"g"},{"i":109,"v":0.000975,"d":"r"},{"i":110,"v":0.000845,"d":"r"},{"i":111,"v":0.000792,"d":"r"},{"i":112,"v":0.000686,"d":"r"},{"i":113,"v":0.000634,"d":"r"},{"i":114,"v":0.000630,"d":"r"},{"i":115,"v":0.000581,"d":"r"},{"i":116,"v":0.000475,"d":"r"},{"i":117,"v":0.000449,"d":"r"},{"i":118,"v":0.000455,"d":"g"},{"i":119,"v":0.000660,"d":"g"},{"i":120,"v":0.000686,"d":"g"},{"i":121,"v":0.000680,"d":"r"},{"i":122,"v":0.000607,"d":"r"},{"i":123,"v":0.000528,"d":"r"},{"i":124,"v":0.000449,"d":"r"},{"i":125,"v":0.000370,"d":"r"},{"i":126,"v":0.000211,"d":"r"},{"i":127,"v":0.000130,"d":"r"},{"i":128,"v":0.000160,"d":"g"},{"i":129,"v":0.000211,"d":"g"},{"i":130,"v":0.000317,"d":"g"},{"i":131,"v":0.000320,"d":"g"},{"i":132,"v":0.000330,"d":"g"},{"i":133,"v":0.000343,"d":"g"},{"i":134,"v":0.000396,"d":"g"},{"i":135,"v":0.000475,"d":"g"},{"i":136,"v":0.000581,"d":"g"},{"i":137,"v":0.000660,"d":"g"},{"i":138,"v":0.000739,"d":"g"},{"i":139,"v":0.000871,"d":"g"},{"i":140,"v":0.000977,"d":"g"},{"i":141,"v":0.000990,"d":"g"},{"i":142,"v":0.000950,"d":"r"},{"i":143,"v":0.000998,"d":"g"},
{"i":0,"v":-0.000480,"d":"g"},{"i":1,"v":-0.000502,"d":"g"},{"i":2,"v":-0.001426,"d":"g"},{"i":3,"v":-0.001980,"d":"g"},{"i":4,"v":-0.002033,"d":"g"},{"i":5,"v":-0.002040,"d":"g"},{"i":6,"v":-0.002693,"d":"g"},{"i":7,"v":-0.002587,"d":"r"},{"i":8,"v":-0.002580,"d":"r"},{"i":9,"v":-0.002851,"d":"g"},{"i":10,"v":-0.003036,"d":"g"},{"i":11,"v":-0.002957,"d":"r"},{"i":12,"v":-0.002482,"d":"r"},{"i":13,"v":-0.002244,"d":"r"},{"i":14,"v":-0.001848,"d":"r"},{"i":15,"v":-0.001637,"d":"r"},{"i":16,"v":-0.001650,"d":"g"},{"i":17,"v":-0.001660,"d":"g"},{"i":18,"v":-0.001267,"d":"r"},{"i":19,"v":-0.000977,"d":"r"},{"i":20,"v":-0.000607,"d":"r"},{"i":21,"v":-0.000317,"d":"r"},{"i":22,"v":-0.000264,"d":"r"},{"i":23,"v":-0.000260,"d":"r"},{"i":24,"v":-0.000270,"d":"g"},{"i":25,"v":-0.000053,"d":"r"},{"i":26,"v":-0.000050,"d":"r"},{"i":27,"v":-0.000264,"d":"g"},{"i":28,"v":-0.000422,"d":"g"},{"i":29,"v":-0.000132,"d":"r"},{"i":30,"v":-0.000528,"d":"g"},{"i":31,"v":-0.000535,"d":"g"},{"i":32,"v":-0.000871,"d":"g"},{"i":33,"v":-0.000977,"d":"g"},{"i":34,"v":-0.001003,"d":"g"},{"i":35,"v":-0.001056,"d":"g"},{"i":36,"v":-0.001267,"d":"g"},{"i":37,"v":-0.001320,"d":"g"},{"i":38,"v":-0.001267,"d":"r"},{"i":39,"v":-0.001056,"d":"r"},{"i":40,"v":-0.000607,"d":"r"},{"i":41,"v":-0.000317,"d":"r"},{"i":42,"v":-0.000132,"d":"r"},{"i":43,"v":-0.000264,"d":"g"},{"i":44,"v":-0.000528,"d":"g"},{"i":45,"v":-0.000535,"d":"g"},{"i":46,"v":-0.000792,"d":"g"},{"i":47,"v":-0.001188,"d":"g"},{"i":48,"v":-0.001637,"d":"g"},{"i":49,"v":-0.001690,"d":"g"},{"i":50,"v":-0.001214,"d":"r"},{"i":51,"v":-0.000660,"d":"r"},{"i":52,"v":-0.000396,"d":"r"},{"i":53,"v":-0.000607,"d":"g"},{"i":54,"v":-0.000871,"d":"g"},{"i":55,"v":-0.000713,"d":"r"},{"i":56,"v":-0.000607,"d":"r"},{"i":57,"v":-0.000977,"d":"g"},{"i":58,"v":-0.001373,"d":"g"},{"i":59,"v":-0.001584,"d":"g"},{"i":60,"v":-0.001590,"d":"g"},{"i":61,"v":-0.001580,"d":"r"},{"i":62,"v":-0.001575,"d":"r"},{"i":63,"v":-0.001109,"d":"r"},{"i":64,"v":-0.000739,"d":"r"},{"i":65,"v":-0.000792,"d":"g"},{"i":66,"v":-0.000845,"d":"g"},{"i":67,"v":-0.000924,"d":"g"},{"i":68,"v":-0.001109,"d":"g"},{"i":69,"v":-0.001056,"d":"r"},{"i":70,"v":-0.000449,"d":"r"},{"i":71,"v":-0.000264,"d":"r"},{"i":72,"v":-0.000270,"d":"g"},{"i":73,"v":-0.000132,"d":"r"},{"i":74,"v":-0.000130,"d":"r"},{"i":75,"v":-0.000135,"d":"g"},{"i":76,"v":-0.000475,"d":"g"},{"i":77,"v":-0.000871,"d":"g"},{"i":78,"v":-0.000396,"d":"r"},{"i":79,"v":-0.000264,"d":"r"},{"i":80,"v":-0.000739,"d":"g"},{"i":81,"v":-0.000792,"d":"g"},{"i":82,"v":-0.000739,"d":"r"},{"i":83,"v":-0.000745,"d":"g"},{"i":84,"v":-0.000750,"d":"g"},{"i":85,"v":-0.000755,"d":"g"},{"i":86,"v":-0.000713,"d":"r"},{"i":87,"v":-0.000607,"d":"r"},{"i":88,"v":-0.000600,"d":"r"},{"i":89,"v":-0.000610,"d":"g"},{"i":90,"v":-0.000792,"d":"g"},{"i":91,"v":-0.000800,"d":"g"},{"i":92,"v":-0.001056,"d":"g"},{"i":93,"v":-0.001060,"d":"g"},{"i":94,"v":-0.000581,"d":"r"},{"i":95,"v":-0.000079,"d":"r"},{"i":96,"v":-0.000211,"d":"g"},{"i":97,"v":-0.000528,"d":"g"},{"i":98,"v":-0.000211,"d":"r"},{"i":99,"v":-0.000205,"d":"r"},{"i":100,"v":-0.000264,"d":"g"},{"i":101,"v":-0.000317,"d":"g"},{"i":102,"v":-0.000320,"d":"g"},{"i":103,"v":-0.000792,"d":"g"},{"i":104,"v":-0.001267,"d":"g"},{"i":105,"v":-0.001260,"d":"r"},{"i":106,"v":-0.001188,"d":"r"},{"i":107,"v":-0.001195,"d":"g"},{"i":108,"v":-0.000924,"d":"r"},{"i":109,"v":-0.000792,"d":"r"},{"i":110,"v":-0.000739,"d":"r"},{"i":111,"v":-0.000528,"d":"r"},{"i":112,"v":-0.000475,"d":"r"},{"i":113,"v":-0.000396,"d":"r"},{"i":114,"v":-0.000317,"d":"r"},{"i":115,"v":-0.000185,"d":"r"},{"i":116,"v":-0.000317,"d":"g"},{"i":117,"v":-0.000343,"d":"g"},{"i":118,"v":-0.000581,"d":"g"},{"i":119,"v":-0.000264,"d":"r"},{"i":120,"v":-0.000260,"d":"r"},{"i":121,"v":-0.000211,"d":"r"},{"i":122,"v":-0.000132,"d":"r"},{"i":123,"v":-0.000185,"d":"g"},{"i":124,"v":-0.000264,"d":"g"},{"i":125,"v":-0.000270,"d":"g"},{"i":126,"v":-0.000475,"d":"g"},{"i":127,"v":-0.000480,"d":"g"},{"i":128,"v":-0.000485,"d":"g"},{"i":129,"v":-0.000396,"d":"r"},{"i":130,"v":-0.000390,"d":"r"},{"i":131,"v":-0.000449,"d":"g"},{"i":132,"v":-0.000528,"d":"g"},{"i":133,"v":-0.000535,"d":"g"},{"i":134,"v":-0.000581,"d":"g"},{"i":135,"v":-0.000792,"d":"g"},{"i":136,"v":-0.000871,"d":"g"},{"i":137,"v":-0.000924,"d":"g"},{"i":138,"v":-0.000930,"d":"g"},{"i":139,"v":-0.000871,"d":"r"},{"i":140,"v":-0.001056,"d":"g"},{"i":141,"v":-0.000917,"d":"r"}
],
"last": [{"p": 1.35903, "t": "1.35903"}]
},
"vconcat": [
{
 "width": 1225, "height": 471,
 "layer": [
  {"data": {"name": "candles"}, "mark": {"type": "rule", "color": "black", "strokeWidth": 1, "clip": true},
   "encoding": {"x": {"field": "i", "type": "quantitative", "scale": {"domain": [-0.125, 153], "nice": false, "zero": false, "padding": 0}, "axis": null},
    "y": {"field": "l", "type": "quantitative", "scale": {"domain": [1.358618, 1.371594], "nice": false, "zero": false, "padding": 0},
      "axis": {"orient": "right", "title": null, "values": [1.3595,1.3604,1.3613,1.3622,1.3631,1.364,1.3649,1.3658,1.3667,1.3676,1.3685,1.3694,1.3703,1.3712], "format": ".5f", "tickSize": 4, "labelPadding": 2}},
    "y2": {"field": "h"}}},
  {"data": {"name": "candles"}, "mark": {"type": "bar", "width": 4, "stroke": "black", "strokeWidth": 1, "clip": true},
   "encoding": {"x": {"field": "i", "type": "quantitative", "axis": null},
    "y": {"field": "o", "type": "quantitative", "axis": {"orient": "right", "title": null, "values": [1.3595,1.3604,1.3613,1.3622,1.3631,1.364,1.3649,1.3658,1.3667,1.3676,1.3685,1.3694,1.3703,1.3712], "format": ".5f", "tickSize": 4, "labelPadding": 2}}, "y2": {"field": "c"},
    "fill": {"condition": {"test": "datum.c > datum.o", "value": "white"}, "value": "black"}}},
  {"data": {"name": "lines"}, "mark": {"type": "line", "strokeWidth": 2, "clip": true},
   "encoding": {"x": {"field": "i", "type": "quantitative", "axis": null},
    "y": {"field": "p", "type": "quantitative", "axis": {"orient": "right", "title": null, "values": [1.3595,1.3604,1.3613,1.3622,1.3631,1.364,1.3649,1.3658,1.3667,1.3676,1.3685,1.3694,1.3703,1.3712], "format": ".5f", "tickSize": 4, "labelPadding": 2}},
    "color": {"field": "ln", "type": "nominal", "scale": {"domain": ["jaw", "teeth", "lips"], "range": ["#0a56d6", "#ff0000", "#00ff00"]}, "legend": null}}},
  {"data": {"name": "candles"}, "transform": [{"filter": "datum.f == 'u' || datum.f == 'b'"}],
   "mark": {"type": "point", "shape": "M0,-0.75L0,0.35L-0.9,0.75Z", "size": 150, "filled": true, "fill": "#8a8a8a", "stroke": "#8a8a8a", "strokeWidth": 0.4, "opacity": 1, "yOffset": -9, "clip": true},
   "encoding": {"x": {"field": "i", "type": "quantitative", "axis": null},
    "y": {"field": "h", "type": "quantitative", "axis": {"orient": "right", "title": null, "values": [1.3595,1.3604,1.3613,1.3622,1.3631,1.364,1.3649,1.3658,1.3667,1.3676,1.3685,1.3694,1.3703,1.3712], "format": ".5f", "tickSize": 4, "labelPadding": 2}}}},
  {"data": {"name": "candles"}, "transform": [{"filter": "datum.f == 'u' || datum.f == 'b'"}],
   "mark": {"type": "point", "shape": "M0,-0.75L0.9,0.75L0,0.35Z", "size": 150, "filled": true, "fill": "#dcdcdc", "stroke": "#9a9a9a", "strokeWidth": 0.5, "opacity": 1, "yOffset": -9, "clip": true},
   "encoding": {"x": {"field": "i", "type": "quantitative", "axis": null},
    "y": {"field": "h", "type": "quantitative", "axis": {"orient": "right", "title": null, "values": [1.3595,1.3604,1.3613,1.3622,1.3631,1.364,1.3649,1.3658,1.3667,1.3676,1.3685,1.3694,1.3703,1.3712], "format": ".5f", "tickSize": 4, "labelPadding": 2}}}},
  {"data": {"name": "candles"}, "transform": [{"filter": "datum.f == 'd' || datum.f == 'b'"}],
   "mark": {"type": "point", "shape": "M0,0.75L0,-0.35L-0.9,-0.75Z", "size": 150, "filled": true, "fill": "#8a8a8a", "stroke": "#8a8a8a", "strokeWidth": 0.4, "opacity": 1, "yOffset": 8, "clip": true},
   "encoding": {"x": {"field": "i", "type": "quantitative", "axis": null},
    "y": {"field": "l", "type": "quantitative", "axis": {"orient": "right", "title": null, "values": [1.3595,1.3604,1.3613,1.3622,1.3631,1.364,1.3649,1.3658,1.3667,1.3676,1.3685,1.3694,1.3703,1.3712], "format": ".5f", "tickSize": 4, "labelPadding": 2}}}},
  {"data": {"name": "candles"}, "transform": [{"filter": "datum.f == 'd' || datum.f == 'b'"}],
   "mark": {"type": "point", "shape": "M0,0.75L0.9,-0.75L0,-0.35Z", "size": 150, "filled": true, "fill": "#dcdcdc", "stroke": "#9a9a9a", "strokeWidth": 0.5, "opacity": 1, "yOffset": 8, "clip": true},
   "encoding": {"x": {"field": "i", "type": "quantitative", "axis": null},
    "y": {"field": "l", "type": "quantitative", "axis": {"orient": "right", "title": null, "values": [1.3595,1.3604,1.3613,1.3622,1.3631,1.364,1.3649,1.3658,1.3667,1.3676,1.3685,1.3694,1.3703,1.3712], "format": ".5f", "tickSize": 4, "labelPadding": 2}}}},
  {"data": {"name": "last"}, "mark": {"type": "rule", "color": "#c80000", "strokeWidth": 1},
   "encoding": {"y": {"field": "p", "type": "quantitative", "axis": {"orient": "right", "title": null, "values": [1.3595,1.3604,1.3613,1.3622,1.3631,1.364,1.3649,1.3658,1.3667,1.3676,1.3685,1.3694,1.3703,1.3712], "format": ".5f", "tickSize": 4, "labelPadding": 2}}}},
  {"data": {"name": "last"}, "mark": {"type": "tick", "orient": "horizontal", "size": 40, "thickness": 13, "color": "#c80000", "opacity": 1, "clip": false},
   "encoding": {"x": {"datum": 155.8, "type": "quantitative", "axis": null},
    "y": {"field": "p", "type": "quantitative", "axis": {"orient": "right", "title": null, "values": [1.3595,1.3604,1.3613,1.3622,1.3631,1.364,1.3649,1.3658,1.3667,1.3676,1.3685,1.3694,1.3703,1.3712], "format": ".5f", "tickSize": 4, "labelPadding": 2}}}},
  {"data": {"name": "last"}, "mark": {"type": "text", "color": "white", "fontSize": 9, "font": "Liberation Sans", "align": "center", "baseline": "middle", "clip": false},
   "encoding": {"x": {"datum": 155.8, "type": "quantitative", "axis": null},
    "y": {"field": "p", "type": "quantitative", "axis": {"orient": "right", "title": null, "values": [1.3595,1.3604,1.3613,1.3622,1.3631,1.364,1.3649,1.3658,1.3667,1.3676,1.3685,1.3694,1.3703,1.3712], "format": ".5f", "tickSize": 4, "labelPadding": 2}}, "text": {"field": "t"}}}
 ]
},
{
 "width": 1225, "height": 100,
 "title": {"text": "AOcust -0.002437", "anchor": "start", "offset": -12, "dx": 3},
 "data": {"name": "ao"},
 "mark": {"type": "bar", "width": 4, "clip": true},
 "encoding": {
  "x": {"field": "i", "type": "quantitative", "scale": {"domain": [-0.125, 153], "nice": false, "zero": false, "padding": 0}, "axis": null},
  "y": {"field": "v", "type": "quantitative", "scale": {"domain": [-0.00478, 0.007775], "nice": false, "zero": false, "padding": 0},
    "axis": {"orient": "right", "title": null, "values": [-0.004064, 0.007059], "labelExpr": "replace(format(datum.value, '.6f'), '\u2212', '-')", "tickSize": 4, "labelPadding": 2}},
  "color": {"condition": {"test": "datum.d == 'g'", "value": "#008000"}, "value": "#ff0000"}
 }
},
{
 "width": 1225, "height": 100,
 "title": {"text": "ACcust -0.0002683", "anchor": "start", "offset": -12, "dx": 3},
 "data": {"name": "ac"},
 "mark": {"type": "bar", "width": 4, "clip": true},
 "encoding": {
  "x": {"field": "i", "type": "quantitative", "scale": {"domain": [-0.125, 153], "nice": false, "zero": false, "padding": 0}, "axis": null},
  "y": {"field": "v", "type": "quantitative", "scale": {"domain": [-0.0023736, 0.0021732], "nice": false, "zero": false, "padding": 0},
    "axis": {"orient": "right", "title": null, "values": [-0.0021144, 0.001914], "labelExpr": "replace(format(datum.value, '.7f'), '\u2212', '-')", "tickSize": 4, "labelPadding": 2}},
  "color": {"condition": {"test": "datum.d == 'g'", "value": "#008000"}, "value": "#ff0000"}
 }
},
{
 "width": 1225, "height": 100,
 "title": {"text": "GatorCust 0.000998 -0.000917", "anchor": "start", "offset": -12, "dx": 3},
 "data": {"name": "gator"},
 "mark": {"type": "bar", "width": 4, "clip": true},
 "encoding": {
  "x": {"field": "i", "type": "quantitative", "scale": {"domain": [-0.125, 153], "nice": false, "zero": false, "padding": 0},
    "axis": {"orient": "bottom", "title": null, "values": [0,8,16,24,32,40,48,56,64,72,80,88,96,104,112,120,128,136], "labelAlign": "left", "labelFlush": false, "labelOverlap": false, "tickSize": 4, "labelPadding": 1,
     "labelExpr": "['9 Feb 2026','9 Feb 23:00','10 Feb 07:00','10 Feb 15:00','10 Feb 23:00','11 Feb 07:00','11 Feb 15:00','11 Feb 23:00','12 Feb 07:00','12 Feb 15:00','12 Feb 23:00','13 Feb 07:00','13 Feb 15:00','13 Feb 23:00','16 Feb 07:00','16 Feb 15:00','16 Feb 23:00','17 Feb 07:00'][round(datum.value/8)]"}},
  "y": {"field": "v", "type": "quantitative", "scale": {"domain": [-0.003769, 0.004149], "nice": false, "zero": false, "padding": 0},
    "axis": {"orient": "right", "title": null, "values": [-0.003318, 0.003698], "labelExpr": "replace(format(datum.value, '.6f'), '\u2212', '-')", "tickSize": 4, "labelPadding": 2}},
  "color": {"condition": {"test": "datum.d == 'g'", "value": "#008000"}, "value": "#ff0000"}
 }
}
]
}
